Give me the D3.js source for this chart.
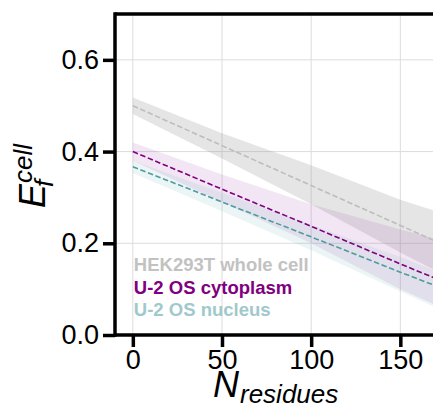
<!DOCTYPE html>
<html>
<head>
<meta charset="utf-8">
<script src="https://cdnjs.cloudflare.com/ajax/libs/d3/7.8.5/d3.min.js"></script>
<style>
body{margin:0;background:#fff;}
text{font-family:"Liberation Sans",Arial,sans-serif;}
</style>
</head>
<body>
<div id="chart"></div>
<script>
// residues sampled along the fit
var residues = [0, 50, 100, 150, 170]

var hekFit   = [0.500, 0.413, 0.326, 0.239, 0.204]
var hekLow   = [0.482, 0.385, 0.285, 0.180, 0.140]
var hekHigh  = [0.518, 0.440, 0.370, 0.295, 0.270]

var cytoFit  = [0.400, 0.318, 0.237, 0.155, 0.123]
var cytoLow  = [0.380, 0.290, 0.200, 0.100, 0.065]
var cytoHigh = [0.420, 0.350, 0.285, 0.230, 0.210]

var nucFit   = [0.367, 0.290, 0.214, 0.137, 0.107]
var nucLow   = [0.353, 0.270, 0.185, 0.095, 0.060]
var nucHigh  = [0.380, 0.310, 0.240, 0.170, 0.140]

var seriesNames = ["HEK293T whole cell", "U-2 OS cytoplasm", "U-2 OS nucleus"]
var xTicks = [0, 50, 100, 150]
var yTicks = [0.0, 0.2, 0.4, 0.6]

var series = [
	{name:seriesNames[0], fit:hekFit, lo:hekLow, hi:hekHigh, line:"#bdbdbd", band:"#9a9a9a", bandOp:0.26, text:"#c2c2c2"},
	{name:seriesNames[1], fit:cytoFit, lo:cytoLow, hi:cytoHigh, line:"#800080", band:"#a040a8", bandOp:0.13, text:"#800080"},
	{name:seriesNames[2], fit:nucFit, lo:nucLow, hi:nucHigh, line:"#4f9c9e", band:"#6fb4b4", bandOp:0.13, text:"#9fc9cc"}
]

var W = 433, H = 411
var pLeft = 115, pRight = 436, pTop = 14, pBottom = 335

var svg = d3.select("#chart").append("svg").attr("width",W).attr("height",H)

var x = d3.scaleLinear().domain([-10,170]).range([pLeft,pRight])
var y = d3.scaleLinear().domain([0,0.7]).range([pBottom,pTop])

svg.append("clipPath").attr("id","plotclip").append("rect")
	.attr("x",pLeft).attr("y",pTop).attr("width",pRight-pLeft).attr("height",pBottom-pTop)

// grid
var grid = svg.append("g")
grid.selectAll(".vg").data(xTicks).enter().append("line")
	.attr("x1",function(d){return x(d)}).attr("x2",function(d){return x(d)})
	.attr("y1",pTop).attr("y2",pBottom)
	.attr("stroke","#dcdcdc").attr("stroke-width",1)
grid.selectAll(".hg").data(yTicks).enter().append("line")
	.attr("y1",function(d){return y(d)}).attr("y2",function(d){return y(d)})
	.attr("x1",pLeft).attr("x2",pRight)
	.attr("stroke","#dcdcdc").attr("stroke-width",1)

var plot = svg.append("g").attr("clip-path","url(#plotclip)")

var area = d3.area()
	.x(function(d){return x(d.r)})
	.y0(function(d){return y(d.lo)})
	.y1(function(d){return y(d.hi)})
var line = d3.line()
	.x(function(d){return x(d.r)})
	.y(function(d){return y(d.v)})

series.forEach(function(s){
	var pts = residues.map(function(r,i){return {r:r, lo:s.lo[i], hi:s.hi[i]}})
	plot.append("path").datum(pts).attr("d",area)
		.attr("fill",s.band).attr("fill-opacity",s.bandOp).attr("stroke","none")
})
series.forEach(function(s){
	var pts = residues.map(function(r,i){return {r:r, v:s.fit[i]}})
	plot.append("path").datum(pts).attr("d",line)
		.attr("fill","none").attr("stroke",s.line).attr("stroke-width",1.6)
		.attr("stroke-dasharray","5.5,2.6")
})

// axes
var xAxis = d3.axisBottom(x).tickValues(xTicks).tickSize(12).tickPadding(3).tickFormat(d3.format("d"))
var yAxis = d3.axisLeft(y).tickValues(yTicks).tickSize(12).tickPadding(4).tickFormat(d3.format(".1f"))

var gx = svg.append("g").attr("transform","translate(0,"+pBottom+")").call(xAxis)
var gy = svg.append("g").attr("transform","translate("+pLeft+",0)").call(yAxis)
;[gx,gy].forEach(function(g){
	g.select(".domain").remove()
	g.selectAll(".tick line").attr("stroke","#000").attr("stroke-width",3.5)
	g.selectAll(".tick text").attr("fill","#000").style("font-size","27px")
})

// spines
svg.append("line").attr("x1",pLeft).attr("x2",pLeft).attr("y1",pTop-1.75).attr("y2",pBottom+1.75)
	.attr("stroke","#000").attr("stroke-width",3.5)
svg.append("line").attr("x1",pLeft).attr("x2",W+5).attr("y1",pBottom).attr("y2",pBottom)
	.attr("stroke","#000").attr("stroke-width",3.5)
svg.append("line").attr("x1",pLeft).attr("x2",W+5).attr("y1",pTop).attr("y2",pTop)
	.attr("stroke","#000").attr("stroke-width",3.5)

// legend text
svg.selectAll(".leg").data(series).enter().append("text")
	.attr("x",x(0)+1)
	.attr("y",function(d,i){return 271+i*22.5})
	.attr("fill",function(d){return d.text})
	.style("font-size","18.5px").style("font-weight","bold")
	.text(function(d){return d.name})

// x label
var xl = svg.append("g").attr("transform","translate(213,397)")
var nText = xl.append("text").style("font-size","36px").style("font-style","italic").text("N")
var nW = nText.node().getComputedTextLength()
xl.append("text").attr("x",nW+1).attr("y",6).style("font-size","26px").style("font-style","italic").text("residues")

// y label
var yl = svg.append("g").attr("transform","translate(45,208) rotate(-90)")
var eText = yl.append("text").style("font-size","36px").style("font-style","italic").text("E")
var eW = eText.node().getComputedTextLength()
yl.append("text").attr("x",eW+1).attr("y",-13).style("font-size","26px").style("font-style","italic").text("cell")
yl.append("text").attr("x",eW-3).attr("y",8).style("font-size","26px").style("font-style","italic").text("f")
</script>
</body>
</html>
